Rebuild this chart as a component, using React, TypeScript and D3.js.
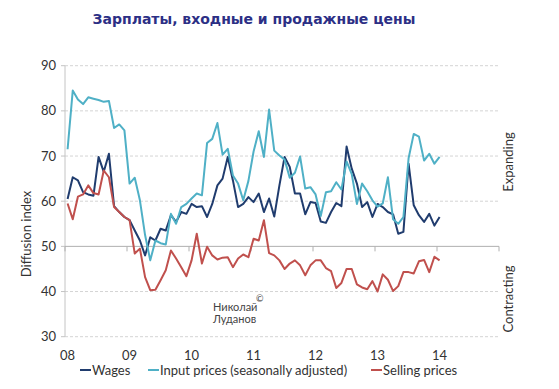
import * as d3 from 'd3';

// monthly diffusion index readings, Jan 2008 .. Jan 2014
const wages = [
  60.5, 65.3, 64.6, 62, 61.5, 61.2, 69.8, 66.5, 70.5, 58.9, 57.6, 56.5,
  55.8, 53.5, 51.3, 48, 52, 51.3, 53.9, 53.5, 56.9, 55.4, 57.6, 57.2,
  59.4, 58.7, 58.9, 56.5, 59.4, 63.5, 65, 69.8, 64.6, 58.7, 59.4, 60.9,
  59.8, 61.7, 57.6, 60.6, 56.6, 63.5, 69.8, 67.6, 61.7, 61.7, 57.1, 59.8,
  59.6, 55.5, 55.2, 57.6, 59.6, 58.9, 72.1, 67.2, 63.9, 58.7, 59.8, 56.5,
  59.4, 58.7, 57.6, 57.1, 52.8, 53.2, 68.3, 59.1, 56.9, 55.4, 57.2, 54.6,
  56.5,
];

const inputPrices = [
  71.5, 84.5, 82.5, 81.5, 83, 82.7, 82.4, 82, 82.2, 76.2, 77, 75.7,
  63.9, 65.2, 60.2, 52.5, 46.9, 51.3, 50.7, 50.4, 57.2, 55, 58.7, 59.4,
  60.6, 61.7, 61.3, 72.9, 73.8, 77.3, 70.3, 71.6, 65.7, 63.9, 60.2, 64.5,
  71, 75.5, 69.8, 80.3, 71.2, 70.1, 69.2, 65.2, 66.3, 69.9, 62.8, 63.1,
  61.5, 56.7, 62, 62.2, 64.2, 62.6, 68.8, 66, 59.4, 63.9, 62.2, 60.2,
  58.8, 59.5, 65.3, 56, 55, 56.5, 69.5, 74.9, 74.3, 69, 70.5, 68.3,
  69.8,
];

const sellingPrices = [
  59.5, 56, 61, 61.5, 63.5, 61.8, 61.5, 66.8, 65.3, 58.7, 57.6, 56.5,
  55.8, 48.4, 49.5, 43.2, 40.3, 40.4, 42.5, 44.7, 49.1, 47.3, 45.4, 43.4,
  46.9, 52.8, 46.2, 49.9, 48, 47.1, 47.5, 47.6, 45.4, 47.3, 48.2, 47.6,
  51.7, 51.3, 55.8, 48.5, 48, 46.9, 45, 46.2, 46.9, 45.8, 43.6, 45.8,
  46.9, 46.9, 45.2, 44.5, 40.8, 41.9, 45, 45, 41.6, 40.9, 40.5, 42.3,
  40, 43.8, 42.6, 40.1, 41.2, 44.3, 44.3, 44, 46.7, 47, 44.3, 47.7,
  46.9,
];

const yearLabels = ['08', '09', '10', '11', '12', '13', '14'];
const yTicks = [30, 40, 50, 60, 70, 80, 90];

const series = [
  { name: 'Wages', values: wages, color: '#203c6e' },
  { name: 'Input prices (seasonally adjusted)', values: inputPrices, color: '#4fb0c6' },
  { name: 'Selling prices', values: sellingPrices, color: '#c0504d' },
];

const FONT = 'Lato, "Open Sans", sans-serif';

export default function App() {
  const left = 65;
  const right = 499;
  const top = 65.7;
  const bottom = 336.7;

  // 84 monthly categories (2008..2014), points sit in the middle of each one
  const x = d3.scaleLinear().domain([0, 84]).range([left, right]);
  const y = d3.scaleLinear().domain([30, 90]).range([bottom, top]);

  const line = d3
    .line<number>()
    .x((_, i) => x(i + 0.5))
    .y((d) => y(d));

  const legendX = [80, 148, 371];

  return (
    <svg
      width={559}
      height={389}
      style={{ position: 'absolute', left: 0, top: 0, background: '#fff' }}
    >
      <text
        x={254}
        y={24}
        textAnchor="middle"
        fontFamily='"DejaVu Sans", Verdana, sans-serif'
        fontWeight="bold"
        fontSize={14}
        fill="#2c2f85"
      >
        Зарплаты, входные и продажные цены
      </text>

      {/* grid */}
      {yTicks
        .filter((t) => t !== 50)
        .map((t) => (
          <line
            key={t}
            x1={left}
            x2={right}
            y1={y(t)}
            y2={y(t)}
            stroke="#d4d4d4"
            strokeDasharray="3 2"
          />
        ))}

      {/* y axis */}
      <line x1={left} x2={left} y1={top} y2={bottom} stroke="#c4c4c4" />
      {yTicks.map((t) => (
        <g key={t}>
          <line x1={left - 4} x2={left} y1={y(t)} y2={y(t)} stroke="#c4c4c4" />
          <text
            x={56}
            y={y(t) + 4.5}
            textAnchor="end"
            fontFamily={FONT}
            fontSize={13}
            fill="#333"
          >
            {t}
          </text>
        </g>
      ))}

      {/* category axis crossing at 50 */}
      <line x1={left} x2={right} y1={y(50)} y2={y(50)} stroke="#b0b0b0" />
      {d3.range(0, 85, 12).map((m) => (
        <line
          key={m}
          x1={x(m)}
          x2={x(m)}
          y1={y(50)}
          y2={y(50) + 5}
          stroke="#b0b0b0"
        />
      ))}
      {yearLabels.map((lab, k) => (
        <text
          key={lab}
          x={x(k * 12 + 0.5)}
          y={360}
          textAnchor="middle"
          fontFamily={FONT}
          fontSize={13}
          fill="#333"
        >
          {lab}
        </text>
      ))}

      {series.map((s) => (
        <path
          key={s.name}
          d={line(s.values) ?? ''}
          fill="none"
          stroke={s.color}
          strokeWidth={2}
          strokeLinejoin="round"
        />
      ))}

      <text
        transform="translate(31,234) rotate(-90)"
        textAnchor="middle"
        fontFamily={FONT}
        fontSize={13}
        fill="#333"
      >
        Diffusion index
      </text>
      <text
        transform="translate(513,162) rotate(-90)"
        textAnchor="middle"
        fontFamily={FONT}
        fontSize={13}
        fill="#333"
      >
        Expanding
      </text>
      <text
        transform="translate(513,299) rotate(-90)"
        textAnchor="middle"
        fontFamily={FONT}
        fontSize={13}
        fill="#333"
      >
        Contracting
      </text>

      <text x={213} y={311} fontFamily={FONT} fontSize={11} fill="#444">
        Николай
      </text>
      <text x={256} y={302} fontFamily={FONT} fontSize={9} fill="#444">
        ©
      </text>
      <text x={213} y={323} fontFamily={FONT} fontSize={11} fill="#444">
        Луданов
      </text>

      {series.map((s, i) => (
        <g key={s.name}>
          <line
            x1={legendX[i]}
            x2={legendX[i] + 11}
            y1={370}
            y2={370}
            stroke={s.color}
            strokeWidth={2}
          />
          <text
            x={legendX[i] + 12}
            y={374.5}
            fontFamily={FONT}
            fontSize={13}
            fill="#333"
          >
            {s.name}
          </text>
        </g>
      ))}
    </svg>
  );
}
